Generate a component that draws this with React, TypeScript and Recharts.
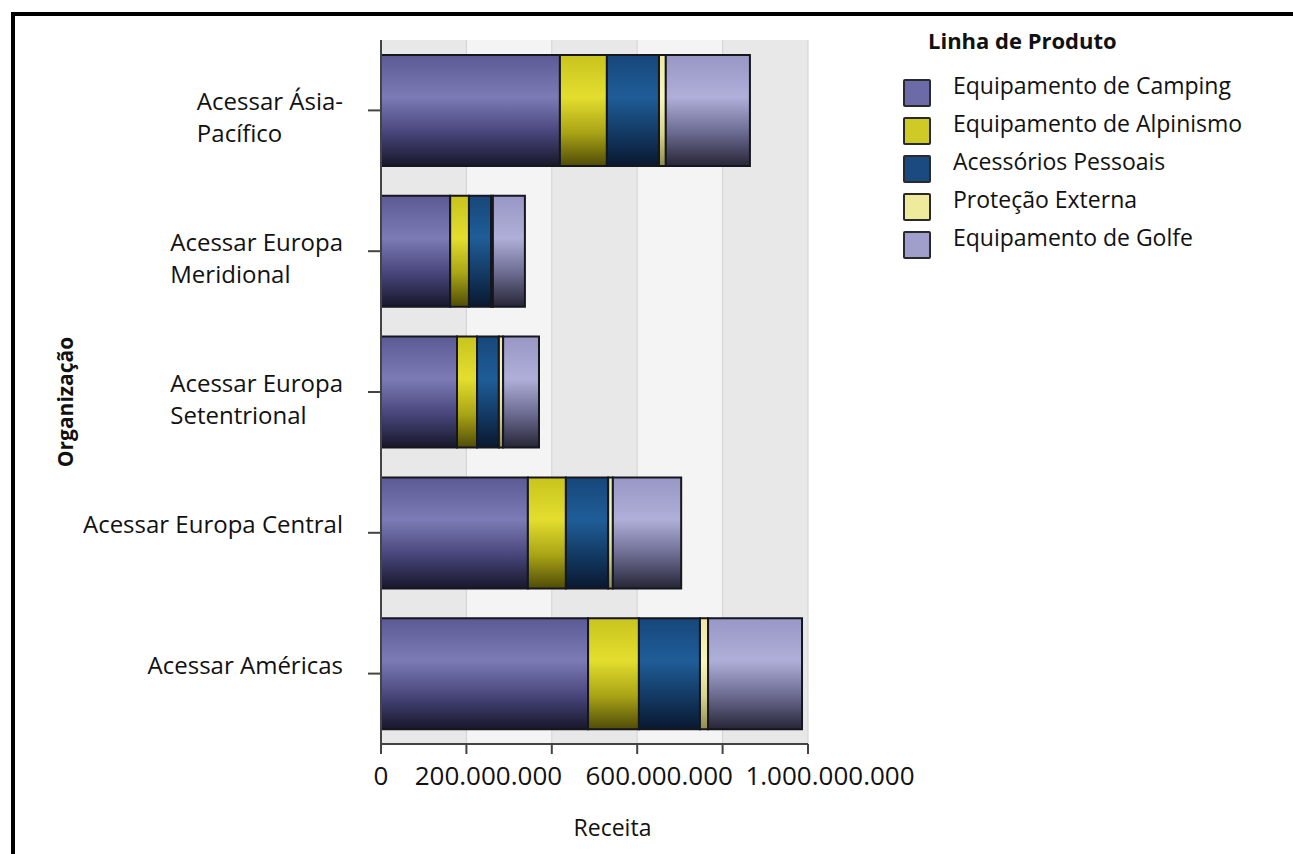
import React from 'react';
import { Bar, BarChart, CartesianGrid, Label, XAxis, YAxis } from 'recharts';

// Receita por organização e linha de produto (valores em reais)
const ORGS = [
  'Acessar Ásia-Pacífico',
  'Acessar Europa Meridional',
  'Acessar Europa Setentrional',
  'Acessar Europa Central',
  'Acessar Américas',
];
const ORG_LINES = [
  ['Acessar Ásia-', 'Pacífico'],
  ['Acessar Europa', 'Meridional'],
  ['Acessar Europa', 'Setentrional'],
  ['Acessar Europa Central'],
  ['Acessar Américas'],
];

const CAMPING = [419e6, 162e6, 178e6, 344e6, 485e6];
const ALPINISMO = [110e6, 44e6, 47e6, 89e6, 119e6];
const ACESSORIOS = [122e6, 52e6, 51e6, 99e6, 143e6];
const PROTECAO = [16e6, 4e6, 10e6, 11e6, 19e6];
const GOLFE = [197e6, 75e6, 84e6, 160e6, 220e6];

const X_TICKS = [0, 200e6, 400e6, 600e6, 800e6, 1000e6];
const X_LABELED = [0, 200e6, 600e6, 1000e6];

const SERIES = [
  { key: 'camping', name: 'Equipamento de Camping', values: CAMPING, swatch: '#6d6aa8', stops: ['#5c5a94', '#7d7bb5', '#47457a', '#17172a'] },
  { key: 'alpinismo', name: 'Equipamento de Alpinismo', values: ALPINISMO, swatch: '#cfcb26', stops: ['#c9c41e', '#e3de2e', '#a9a415', '#4f4c08'] },
  { key: 'acessorios', name: 'Acessórios Pessoais', values: ACESSORIOS, swatch: '#1b4a80', stops: ['#17477a', '#1f5d98', '#133a64', '#09182f'] },
  { key: 'protecao', name: 'Proteção Externa', values: PROTECAO, swatch: '#eeeb9c', stops: ['#eeeaa0', '#f8f5bd', '#d8d48a', '#8e8b50'] },
  { key: 'golfe', name: 'Equipamento de Golfe', values: GOLFE, swatch: '#a09fcb', stops: ['#9897c5', '#b0afd9', '#6b6a90', '#262636'] },
];

const data = ORGS.map((org, i) => {
  const row: Record<string, any> = { org, lines: ORG_LINES[i] };
  SERIES.forEach((s) => { row[s.key] = s.values[i]; });
  return row;
});

const FONT = '"Open Sans", sans-serif';
const AXIS = '#444';

const fmt = (v: number) => String(Math.round(v)).replace(/\B(?=(\d{3})+(?!\d))/g, '.');

let measureCtx: CanvasRenderingContext2D | null = null;
const textWidth = (t: string, font: string) => {
  if (!measureCtx) measureCtx = document.createElement('canvas').getContext('2d');
  if (!measureCtx) return t.length * 12;
  measureCtx.font = font;
  return measureCtx.measureText(t).width;
};

const OrgTick = (props: any) => {
  const { x, y, payload } = props;
  const row = data.find((d) => d.org === payload.value);
  const lines: string[] = row ? row.lines : [payload.value];
  const w = Math.max(...lines.map((l) => textWidth(l, `24px ${FONT}`)));
  const left = x - 25 - w;
  return (
    <g>
      {lines.map((l, i) => (
        <text key={i} x={left} y={y + i * 32} fontSize={24} fontFamily={FONT} fill="#111" textAnchor="start">
          {l}
        </text>
      ))}
    </g>
  );
};

const ValueTick = (props: any) => {
  const { x, y, payload } = props;
  if (!X_LABELED.includes(payload.value)) return null;
  const shift = payload.value === 0 ? 0 : 22;
  return (
    <text x={x + shift} y={y + 29} fontSize={26} fontFamily={FONT} fill="#111" textAnchor="middle">
      {fmt(payload.value)}
    </text>
  );
};

const XTitle = (props: any) => {
  const { viewBox } = props;
  return (
    <text x={viewBox.x + viewBox.width / 2 + 18} y={viewBox.y + 92} fontSize={23} fontFamily={FONT} fill="#111" textAnchor="middle">
      Receita
    </text>
  );
};

const YTitle = (props: any) => {
  const { viewBox } = props;
  const cx = 65;
  const cy = viewBox.y + viewBox.height / 2 + 10;
  return (
    <text x={cx} y={cy} transform={`rotate(-90 ${cx} ${cy})`} fontSize={21} fontWeight="bold" fontFamily={FONT} fill="#111" textAnchor="middle" dominantBaseline="central">
      Organização
    </text>
  );
};

export default function App() {
  return (
    <div style={{ position: 'absolute', left: 0, top: 0, width: 1293, height: 854, background: '#fff', overflow: 'hidden', fontFamily: FONT }}>
      <div style={{ position: 'absolute', left: 11, top: 12, right: -10, bottom: -10, borderTop: '4px solid #000', borderLeft: '4px solid #000' }} />
      <div style={{ position: 'absolute', left: 0, top: 0 }}>
        <BarChart
          width={1293}
          height={854}
          data={data}
          layout="vertical"
          margin={{ top: 40, right: 485, bottom: 50, left: 0 }}
          barSize={111}
        >
          <defs>
            {SERIES.map((s) => (
              <linearGradient key={s.key} id={`grad-${s.key}`} x1="0" y1="0" x2="0" y2="1">
                <stop offset="0%" stopColor={s.stops[0]} />
                <stop offset="38%" stopColor={s.stops[1]} />
                <stop offset="70%" stopColor={s.stops[2]} />
                <stop offset="100%" stopColor={s.stops[3]} />
              </linearGradient>
            ))}
          </defs>
          <CartesianGrid horizontal={false} vertical verticalFill={['#e8e8e8', '#f4f4f4']} stroke="#d2d2d2" />
          <XAxis
            type="number"
            domain={[0, 1000e6]}
            ticks={X_TICKS}
            interval={0}
            height={60}
            tickSize={10}
            tick={<ValueTick />}
            axisLine={{ stroke: AXIS, strokeWidth: 2 }}
            tickLine={{ stroke: AXIS, strokeWidth: 2 }}
          >
            <Label content={<XTitle />} />
          </XAxis>
          <YAxis
            type="category"
            dataKey="org"
            width={381}
            tickSize={13}
            tickMargin={0}
            interval={0}
            tick={<OrgTick />}
            axisLine={{ stroke: AXIS, strokeWidth: 2 }}
            tickLine={{ stroke: AXIS, strokeWidth: 2 }}
          >
            <Label content={<YTitle />} />
          </YAxis>
          {SERIES.map((s) => (
            <Bar
              key={s.key}
              dataKey={s.key}
              name={s.name}
              stackId="receita"
              fill={`url(#grad-${s.key})`}
              stroke="#16161f"
              strokeWidth={2}
              isAnimationActive={false}
            />
          ))}
        </BarChart>
      </div>
      <div style={{ position: 'absolute', left: 928, top: 24, fontSize: 22, fontWeight: 'bold', color: '#111', lineHeight: '32px' }}>
        Linha de Produto
      </div>
      <div style={{ position: 'absolute', left: 903, top: 68 }}>
        {SERIES.map((s) => (
          <div key={s.key} style={{ position: 'relative', height: 38 }}>
            <div style={{ position: 'absolute', left: 0, top: 11, width: 24, height: 24, background: s.swatch, border: '2px solid #2a2a2a', borderRadius: 2 }} />
            <div style={{ position: 'absolute', left: 50, top: 0, fontSize: 23, lineHeight: '34px', color: '#111', whiteSpace: 'nowrap' }}>
              {s.name}
            </div>
          </div>
        ))}
      </div>
    </div>
  );
}
